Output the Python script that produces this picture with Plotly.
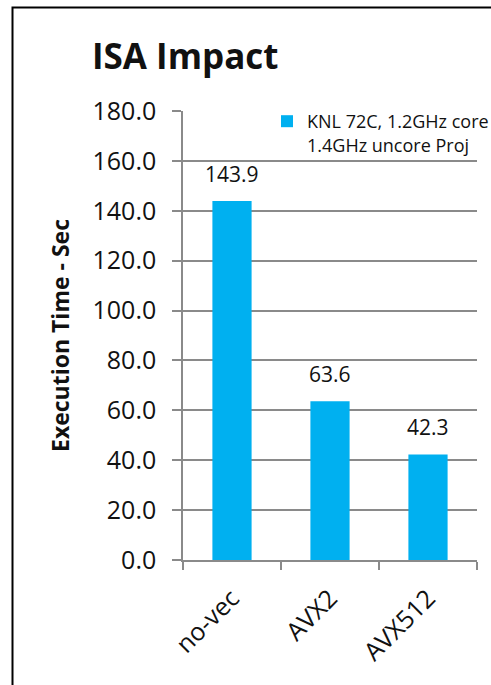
import plotly.graph_objects as go

# Execution time per instruction set
categories = ["no-vec", "AVX2", "AVX512"]
exec_time = [143.9, 63.6, 42.3]
series_name = "KNL 72C, 1.2GHz core<br>1.4GHz uncore Proj"
y_ticks = [0, 20, 40, 60, 80, 100, 120, 140, 160, 180]

FONT = "Open Sans"
BAR_COLOR = "#00B0F0"
GRID = "#8a8a8a"
TEXT = "#111111"

fig = go.Figure()
fig.add_trace(go.Bar(
    x=categories,
    y=exec_time,
    name=series_name,
    marker=dict(color=BAR_COLOR, line=dict(width=0)),
    showlegend=True,
))

W, H = 491, 685
L, R, T, B = 183, 14, 111, 125
pw, ph = W - L - R, H - T - B

def px(x):
    return (x - L) / pw

def py(y):
    return (H - B - y) / ph

# value labels sitting above each bar
value_labels = [
    dict(
        x=c, y=v, xref="x", yref="y",
        text=f"{v:.1f}", showarrow=False,
        xanchor="center", yanchor="bottom", yshift=11,
        font=dict(family=FONT, size=21, color=TEXT),
    )
    for c, v in zip(categories, exec_time)
]

fig.update_layout(
    width=W, height=H,
    margin=dict(l=L, r=R, t=T, b=B, pad=0, autoexpand=False),
    paper_bgcolor="white",
    plot_bgcolor="white",
    font=dict(family=FONT, color=TEXT),
    bargap=0.6,
    title=dict(
        text="<b>ISA Impact</b>",
        font=dict(family=FONT, size=35, color=TEXT),
        x=92 / W, xanchor="left", xref="container",
        y=1 - 57 / H, yanchor="middle", yref="container",
    ),
    showlegend=True,
    legend=dict(
        x=px(267), xanchor="left",
        y=py(103), yanchor="top",
        valign="top",
        bgcolor="rgba(0,0,0,0)",
        font=dict(family=FONT, size=18, color=TEXT),
        itemclick=False,
    ),
    annotations=value_labels,
    xaxis=dict(
        showline=True, linecolor=GRID, linewidth=1.5,
        ticks="outside", ticklen=8, tickcolor=GRID, tickwidth=1.5,
        tickson="boundaries",
        tickangle=-45,
        ticklabelstandoff=12,
        tickfont=dict(family=FONT, size=25, color=TEXT),
        showgrid=False,
        automargin=False,
        fixedrange=True,
    ),
    yaxis=dict(
        range=[0, 180],
        tickvals=y_ticks,
        ticktext=[f"{v:.1f}" for v in y_ticks],
        showline=True, linecolor=GRID, linewidth=1.5,
        ticks="outside", ticklen=9, tickcolor=GRID, tickwidth=1.5,
        ticklabelstandoff=11,
        tickfont=dict(family=FONT, size=25, color=TEXT),
        showgrid=True, gridcolor=GRID, gridwidth=1.5,
        zeroline=False,
        title=dict(
            text="<b>Execution Time - Sec</b>",
            font=dict(family=FONT, size=23, color=TEXT),
            standoff=16,
        ),
        automargin=False,
        fixedrange=True,
    ),
    shapes=[
        # outer frame of the chart
        dict(
            type="rect", xref="paper", yref="paper",
            x0=px(12.5), x1=px(W + 10),
            y0=py(H + 10), y1=py(7.5),
            line=dict(color="black", width=2),
            fillcolor="rgba(0,0,0,0)",
            layer="above",
        )
    ],
)

fig.write_html("out.html")
